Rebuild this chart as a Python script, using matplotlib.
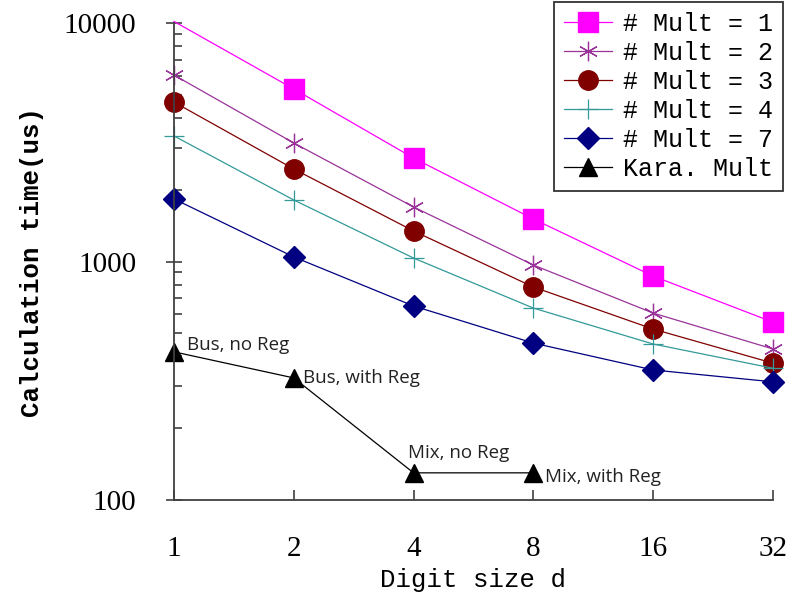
import numpy as np
import matplotlib
matplotlib.use("Agg")
from matplotlib import pyplot as plt
from matplotlib.ticker import FixedLocator, NullFormatter, LogLocator

# dados
digit = [1, 2, 4, 8, 16, 32]
mult1 = [10150, 5290, 2716, 1508, 869, 557]
mult2 = [6050, 3140, 1693, 967, 608, 430]
mult3 = [4660, 2443, 1343, 782, 521, 375]
mult4 = [3360, 1811, 1034, 638, 451, 357]
mult7 = [1829, 1045, 651, 455, 351, 313]
kara_x = [1, 2, 4, 8]
kara = [418, 325, 130, 130]
kara_labels = ["Bus, no Reg", "Bus, with Reg", "Mix, no Reg", "Mix, with Reg"]

fig = plt.figure(figsize=(7.91, 6.02), dpi=100)
ax = fig.add_axes([0.22, 0.1694, 0.757, 0.7924])

ax.plot(digit, mult1, color="#FF00FF", lw=0.9, marker="s", ms=14, markevery=slice(1, None),
        label="# Mult = 1", clip_on=False)
ax.plot(digit, mult2, color="#993399", lw=0.9, marker=(6, 2, 0), ms=14, mew=0.9,
        label="# Mult = 2", clip_on=False)
ax.plot(digit, mult3, color="#800000", lw=0.9, marker="o", ms=14,
        label="# Mult = 3", clip_on=False)
ax.plot(digit, mult4, color="#339999", lw=0.9, marker="+", ms=14, mew=0.9,
        label="# Mult = 4", clip_on=False)
ax.plot(digit, mult7, color="#000080", lw=0.9, marker="D", ms=11,
        label="# Mult = 7", clip_on=False)
ax.plot(kara_x, kara, color="black", lw=0.9, marker="^", ms=13,
        label="Kara. Mult", clip_on=False)

# rotulos dos pontos Kara (deslocamento em pontos, ate a linha de base)
offs = [(9.4, 1.4), (6.5, -3.6), (-4.3, 10.8), (8.6, -6.5)]
for i in range(len(kara_x)):
    ax.annotate(kara_labels[i], xy=(kara_x[i], kara[i]), xytext=offs[i],
                textcoords="offset points", fontsize=13.5, family="Open Sans",
                color="#222222", va="baseline", ha="left")

ax.set_xscale("log", base=2)
ax.set_yscale("log")
ax.set_xlim(1, 32)
ax.set_ylim(100, 10000)
ax.xaxis.set_major_locator(FixedLocator(digit))
ax.set_xticklabels([str(d) for d in digit])
ax.xaxis.set_minor_formatter(NullFormatter())
ax.xaxis.set_minor_locator(FixedLocator([]))
ax.yaxis.set_major_locator(FixedLocator([100, 1000, 10000]))
ax.set_yticklabels(["100", "1000", "10000"])
ax.yaxis.set_minor_locator(LogLocator(base=10, subs=np.arange(2, 10)))
ax.yaxis.set_minor_formatter(NullFormatter())

for s in ["top", "right"]:
    ax.spines[s].set_visible(False)
for s in ["left", "bottom"]:
    ax.spines[s].set_color("#404040")
    ax.spines[s].set_linewidth(1.3)

ax.tick_params(axis="y", which="major", direction="inout", length=12, width=1.2,
               color="#404040", pad=21)
ax.tick_params(axis="y", which="minor", direction="in", length=6, width=1.2, color="#404040")
ax.tick_params(axis="x", which="major", direction="in", length=7, width=1.2,
               color="#404040", pad=26)
for lab in ax.get_xticklabels() + ax.get_yticklabels():
    lab.set_family("Liberation Serif")
    lab.set_fontsize(21)

ax.set_xlabel("Digit size d", family="Liberation Mono", fontsize=18.5, labelpad=4)
ax.set_ylabel("Calculation time(us)", family="Liberation Mono", fontsize=18.5,
              fontweight="bold", labelpad=14)

leg = ax.legend(loc="upper right", bbox_to_anchor=(783 / 791, 1 - 2 / 602),
                bbox_transform=fig.transFigure, prop={"family": "Liberation Mono", "size": 18},
                fancybox=False, edgecolor="#333333", framealpha=1, handlelength=1.9,
                handletextpad=0.45, labelspacing=0.2, borderpad=0.4, borderaxespad=0,
                markerscale=1.0)
leg.get_frame().set_linewidth(1.3)

fig.savefig("out.png", dpi=100)
